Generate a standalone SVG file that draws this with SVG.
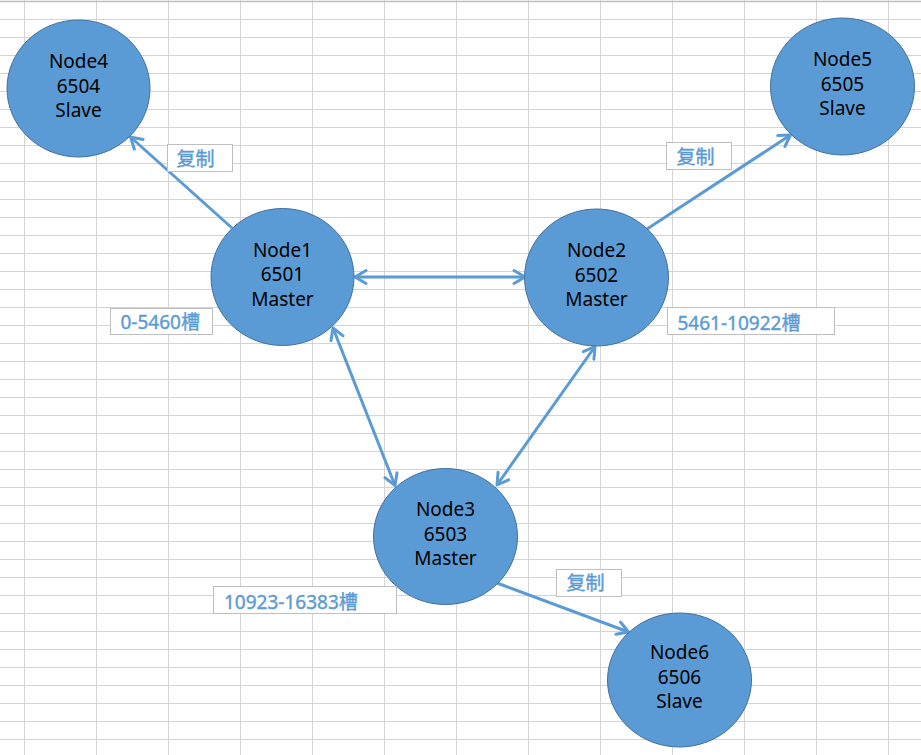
<svg xmlns="http://www.w3.org/2000/svg" width="921" height="755" viewBox="0 0 921 755">
<style>
.grid{stroke:#d4d4d4;stroke-width:1;fill:none}
.node ellipse{fill:#5b9bd5;stroke:#41719c;stroke-width:1}
.node text{font-family:"Noto Sans","Noto Sans CJK SC",sans-serif;font-size:19px;fill:#000;text-anchor:middle}
.lbl rect{fill:#fff;stroke:#bfbfbf;stroke-width:1}
.lbl text{font-family:"Noto Sans","Noto Sans CJK SC",sans-serif;font-size:19px;fill:#5b9bd5;stroke:#5b9bd5;stroke-width:0.4}
.conn line{stroke:#5b9bd5;stroke-width:3;fill:none}
</style>
<defs>
<marker id="ah" viewBox="-14 -10 16 20" refX="0" refY="0" markerWidth="16" markerHeight="20" markerUnits="userSpaceOnUse" orient="auto-start-reverse">
<path d="M-11,-6.5 L0,0 L-11,6.5" fill="none" stroke="#5b9bd5" stroke-width="3" stroke-linejoin="round" stroke-linecap="round"/>
</marker>
</defs>
<rect x="0" y="0" width="921" height="755" fill="#fff"/>
<g id="grid">
<path class="grid" d="M24.5 0V755M96.5 0V755M168.5 0V755M240.5 0V755M312.5 0V755M384.5 0V755M456.5 0V755M528.5 0V755M600.5 0V755M672.5 0V755M744.5 0V755M816.5 0V755M888.5 0V755"/>
<path class="grid" d="M0 19.5H921M0 37.5H921M0 55.5H921M0 73.5H921M0 91.5H921M0 109.5H921M0 127.5H921M0 145.5H921M0 163.5H921M0 181.5H921M0 199.5H921M0 217.5H921M0 235.5H921M0 253.5H921M0 271.5H921M0 289.5H921M0 307.5H921M0 325.5H921M0 343.5H921M0 361.5H921M0 379.5H921M0 397.5H921M0 415.5H921M0 433.5H921M0 451.5H921M0 469.5H921M0 487.5H921M0 505.5H921M0 523.5H921M0 541.5H921M0 559.5H921M0 577.5H921M0 595.5H921M0 613.5H921M0 631.5H921M0 649.5H921M0 667.5H921M0 685.5H921M0 703.5H921M0 721.5H921M0 739.5H921"/>
<path d="M0 1.5H921" stroke="#bfbfbf" stroke-width="1.5"/>
</g>
<g id="connectors" class="conn">
<line x1="232" y1="228" x2="130.5" y2="137" marker-end="url(#ah)"/>
<line x1="647" y1="229" x2="790.5" y2="135" marker-end="url(#ah)"/>
<line x1="355" y1="277" x2="525" y2="277" marker-start="url(#ah)" marker-end="url(#ah)"/>
<line x1="333" y1="328" x2="395" y2="485.5" marker-start="url(#ah)" marker-end="url(#ah)"/>
<line x1="595" y1="346.5" x2="497" y2="485" marker-start="url(#ah)" marker-end="url(#ah)"/>
<line x1="497" y1="583" x2="628.5" y2="632" marker-end="url(#ah)"/>
</g>
<g id="node4" class="node">
<ellipse cx="78.5" cy="88.5" rx="71.5" ry="68.5"/>
<text x="78.5" y="68">Node4</text><text x="78.5" y="92.5">6504</text><text x="78.5" y="117">Slave</text>
</g>
<g id="node1" class="node">
<ellipse cx="282.5" cy="277" rx="71.5" ry="68.5"/>
<text x="282.5" y="256.5">Node1</text><text x="282.5" y="281">6501</text><text x="282.5" y="305.5">Master</text>
</g>
<g id="node2" class="node">
<ellipse cx="596.5" cy="277.5" rx="72" ry="68.5"/>
<text x="596.5" y="257">Node2</text><text x="596.5" y="281.5">6502</text><text x="596.5" y="306">Master</text>
</g>
<g id="node3" class="node">
<ellipse cx="445.5" cy="536.5" rx="72" ry="68"/>
<text x="445.5" y="516">Node3</text><text x="445.5" y="540.5">6503</text><text x="445.5" y="565">Master</text>
</g>
<g id="node5" class="node">
<ellipse cx="842.5" cy="86.5" rx="72" ry="68.5"/>
<text x="842.5" y="66">Node5</text><text x="842.5" y="90.5">6505</text><text x="842.5" y="115">Slave</text>
</g>
<g id="node6" class="node">
<ellipse cx="679.5" cy="680" rx="72" ry="67"/>
<text x="679.5" y="659">Node6</text><text x="679.5" y="683.5">6506</text><text x="679.5" y="708">Slave</text>
</g>
<g id="label-copy1" class="lbl"><rect x="167.5" y="144.5" width="65" height="27"/><text x="176.5" y="165.5">复制</text></g>
<g id="label-slots1" class="lbl"><rect x="110.5" y="308.5" width="102" height="26"/><text x="120.5" y="329">0-5460槽</text></g>
<g id="label-copy2" class="lbl"><rect x="666.5" y="142.5" width="65" height="27"/><text x="676.5" y="163.5">复制</text></g>
<g id="label-slots2" class="lbl"><rect x="667.5" y="307.5" width="167" height="27"/><text x="677.5" y="330">5461-10922槽</text></g>
<g id="label-slots3" class="lbl"><rect x="213.5" y="586.5" width="183" height="27"/><text x="224" y="609">10923-16383槽</text></g>
<g id="label-copy3" class="lbl"><rect x="556.5" y="569.5" width="65" height="27"/><text x="566.5" y="590">复制</text></g>
</svg>
